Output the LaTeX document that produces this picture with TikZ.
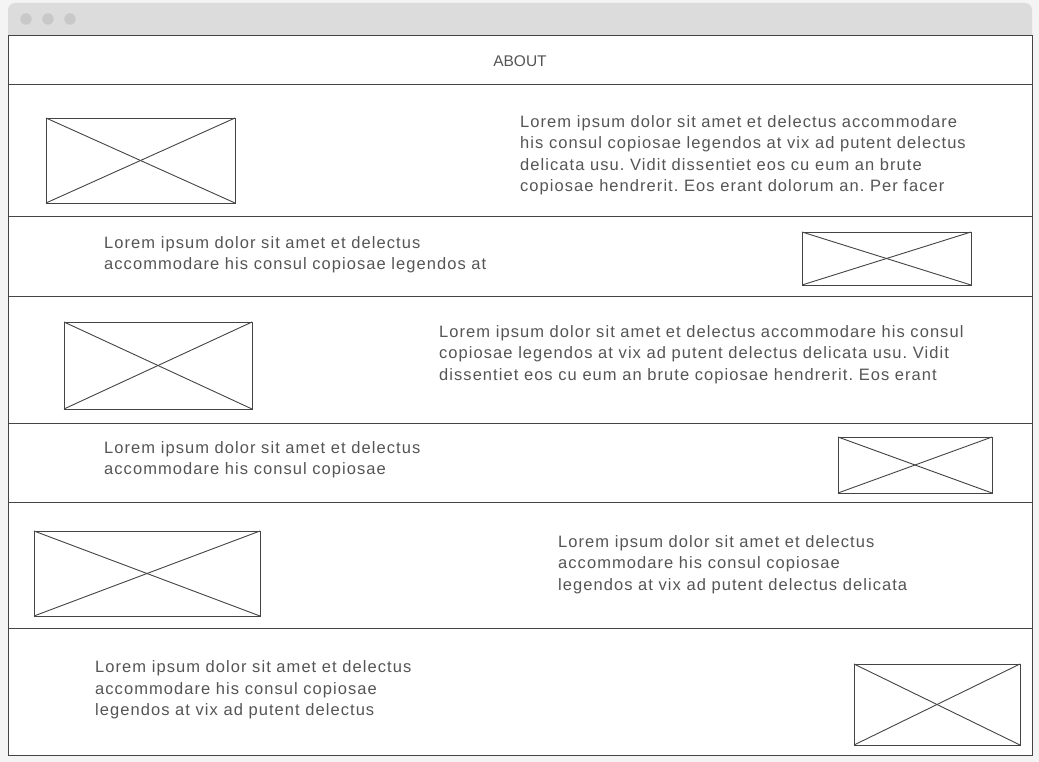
\documentclass[tikz,border=0pt]{standalone}
\usepackage{fontspec}
\setmainfont{Liberation Sans}
\newfontfamily\loremfont{Liberation Sans}[LetterSpace=6.4]
\frenchspacing
\definecolor{pagebg}{HTML}{F4F4F4}
\definecolor{barbg}{HTML}{DCDCDC}
\definecolor{dotgray}{HTML}{C8C8C8}
\definecolor{wireline}{HTML}{444444}
\definecolor{wiretext}{HTML}{555555}
\tikzset{imgph/.style={draw=wireline, line width=0.9pt, rectangle, inner sep=0, outer sep=0}}
\tikzset{lorem/.style={anchor=base west, align=left, inner sep=0, text=wiretext, font={\loremfont\fontsize{16.5}{21.5}\selectfont}}}
\tikzset{rowsep/.style={draw=wireline, line width=1pt}}
\tikzset{windot/.style={circle, fill=dotgray, minimum size=11.4pt, inner sep=0}}
\newcommand\imgbox[5]{
		\node[imgph, minimum width=#4pt, minimum height=#5pt] (#1) at (#2,#3) {};
		\draw[imgph] (#1.north west) -- (#1.south east);
		\draw[imgph] (#1.south west) -- (#1.north east);
	}

\begin{document}
\begin{tikzpicture}[x=1pt, y=-1pt]
    \fill[pagebg] (0,0) rectangle (1039,762);
    \useasboundingbox (0,0) rectangle (1039,762);
    \fill[barbg, rounded corners=7] (8,3) rectangle (1032,50);
    \fill[white] (8,36) rectangle (1032,755);
    \node[windot] (dot1) at (26,19) {};
    \node[windot] (dot2) at (48,19) {};
    \node[windot] (dot3) at (70,19) {};

    \node[anchor=base, inner sep=0, text=wiretext, font=\fontsize{15.5}{18}\selectfont] (about) at (520,66.7) {ABOUT};

    \draw[rowsep] (8,85) -- (1032,85);
    \draw[rowsep] (8,217) -- (1032,217);
    \draw[rowsep] (8,296) -- (1032,296);
    \draw[rowsep] (8,423) -- (1032,423);
    \draw[rowsep] (8,502) -- (1032,502);
    \draw[rowsep] (8,628.5) -- (1032,628.5);
    \draw[rowsep] (8,36) rectangle (1032,755);

    % text nodes sit on the baseline of their last line
    \imgbox{img1}{140.5}{160.5}{189}{85}
    \node[lorem] (txt1) at (520,191.8) {Lorem ipsum dolor sit amet et delectus accommodare\\his consul copiosae legendos at vix ad putent delectus\\delicata usu. Vidit dissentiet eos cu eum an brute\\copiosae hendrerit. Eos erant dolorum an. Per facer};

    \node[lorem] (txt2) at (104,269.8) {Lorem ipsum dolor sit amet et delectus\\accommodare his consul copiosae legendos at};
    \imgbox{img2}{886.5}{258.5}{169}{53}

    \imgbox{img3}{158}{365.5}{188}{87}
    \node[lorem] (txt3) at (439,380) {Lorem ipsum dolor sit amet et delectus accommodare his consul\\copiosae legendos at vix ad putent delectus delicata usu. Vidit\\dissentiet eos cu eum an brute copiosae hendrerit. Eos erant};

    \node[lorem] (txt4) at (104,474.5) {Lorem ipsum dolor sit amet et delectus\\accommodare his consul copiosae};
    \imgbox{img4}{915}{465}{154}{56}

    \imgbox{img5}{147}{573.5}{226}{85}
    \node[lorem] (txt5) at (558,590) {Lorem ipsum dolor sit amet et delectus\\accommodare his consul copiosae\\legendos at vix ad putent delectus delicata};

    \node[lorem] (txt6) at (95,715.7) {Lorem ipsum dolor sit amet et delectus\\accommodare his consul copiosae\\legendos at vix ad putent delectus};
    \imgbox{img6}{937}{704.5}{166}{81}
\end{tikzpicture}
\end{document}
